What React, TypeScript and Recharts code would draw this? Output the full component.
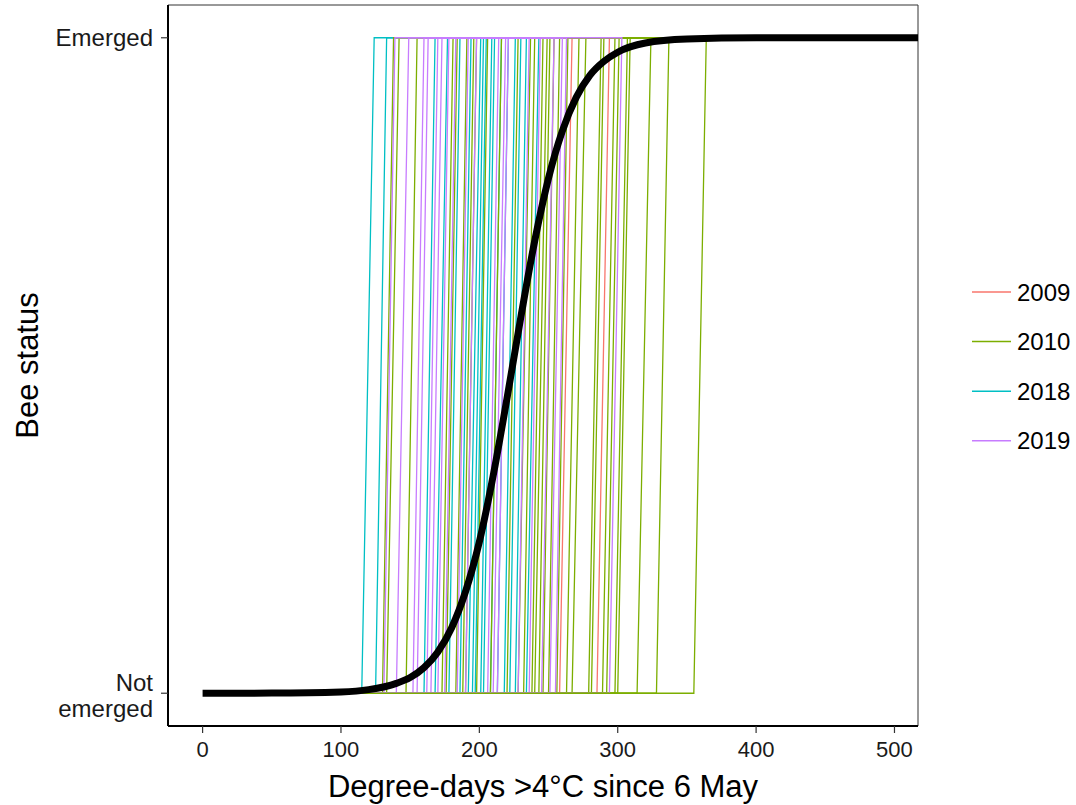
import React from 'react';
import { LineChart, Line, XAxis, YAxis, ReferenceLine, Label } from 'recharts';

// ---------- data ----------
const years = ['2009', '2010', '2018', '2019'];
const yearColors = ['#F8766D', '#7CAE00', '#00BFC4', '#C77CFF'];

// first and last observation (degree-days) per year
const obsFirst = [115, 115, 115, 115];
const obsLast = [300, 364, 206, 206];

// per bee: last degree-days seen "not emerged" and first degree-days seen "emerged"
const bees2009Before = [258, 285];
const bees2009After = [267, 294];

const bees2010Before = [130, 133, 147, 173, 176, 183, 188, 190, 198, 208, 220, 228, 232, 238, 240, 243, 246, 250, 256, 263, 267, 279, 281, 289, 292, 298, 300, 314, 328, 355];
const bees2010After = [138, 142, 155, 181, 184, 191, 196, 198, 206, 216, 228, 237, 240, 246, 249, 251, 254, 258, 264, 272, 277, 288, 290, 298, 301, 307, 309, 324, 337, 364];

const bees2018Before = [115, 125, 160, 168, 178, 186, 192, 195, 197, 201, 203, 208, 213, 218, 222, 226, 234];
const bees2018After = [124, 133, 168, 177, 186, 194, 201, 203, 205, 209, 211, 216, 221, 226, 230, 234, 243];

const bees2019Before = [131, 140, 152, 155, 162, 165, 170, 175, 184, 190, 206, 210, 213, 228, 236, 245, 251, 255, 294];
const bees2019After = [139, 149, 160, 163, 170, 173, 178, 183, 192, 198, 214, 219, 221, 236, 244, 254, 260, 263, 303];

// fitted emergence probability
const curveX = [0, 50, 100, 120, 140, 150, 160, 170, 180, 190, 200, 210, 220, 230, 240, 250, 260, 270, 280, 290, 300, 320, 350, 400, 450, 520];
const curveY = [0, 0.0002, 0.002, 0.0055, 0.015, 0.024, 0.039, 0.063, 0.1, 0.155, 0.231, 0.332, 0.45, 0.574, 0.69, 0.786, 0.858, 0.909, 0.943, 0.964, 0.978, 0.992, 0.998, 1, 1, 1];

const xTicks = [0, 100, 200, 300, 400, 500];
const yTicks = [0, 1];
const yTickLabels: Record<number, string[]> = { 0: ['Not', 'emerged'], 1: ['Emerged'] };

// ---------- build ----------
const FONT = '"Liberation Sans", Arial, Helvetica, sans-serif';

type Bee = { key: string; color: string; data: { x: number; y: number }[] };

function makeBees(yi: number, before: number[], after: number[]): Bee[] {
  return before.map((b, i) => ({
    key: `${years[yi]}-${i}`,
    color: yearColors[yi],
    data: [
      { x: obsFirst[yi], y: 0 },
      { x: b, y: 0 },
      { x: after[i], y: 1 },
      { x: obsLast[yi], y: 1 },
    ],
  }));
}

const b2009 = makeBees(0, bees2009Before, bees2009After);
const b2010 = makeBees(1, bees2010Before, bees2010After);
const b2018 = makeBees(2, bees2018Before, bees2018After);
const b2019 = makeBees(3, bees2019Before, bees2019After);

const lastIdx2010 = b2010.length - 1;
const drawOrder: Bee[] = [
  ...b2018,
  ...b2009,
  ...b2010.slice(0, lastIdx2010),
  ...b2019,
  ...b2010.slice(lastIdx2010),
];

const curveData = curveX.map((x, i) => ({ x, y: curveY[i] }));

const YTick = (props: any) => {
  const { x, y, payload } = props;
  const lines = yTickLabels[payload.value] || [];
  if (lines.length === 1) {
    return (
      <text x={x} y={y + 8.6} textAnchor="end" fontSize={24} fill="#1a1a1a" fontFamily={FONT}>
        {lines[0]}
      </text>
    );
  }
  return (
    <text textAnchor="end" fontSize={24} fill="#1a1a1a" fontFamily={FONT}>
      <tspan x={x} y={y - 2.5}>{lines[0]}</tspan>
      <tspan x={x} y={y + 23.5}>{lines[1]}</tspan>
    </text>
  );
};

const legendTop = 292;
const legendGap = 49.6;

export default function App() {
  return (
    <div style={{ position: 'absolute', left: 0, top: 0, width: 1076, height: 805, background: '#fff' }}>
      <LineChart width={1076} height={805} margin={{ top: 5, right: 158, bottom: 0, left: 0 }}>
        <XAxis
          dataKey="x"
          type="number"
          domain={[-25, 517]}
          allowDataOverflow
          ticks={xTicks}
          height={79}
          tickSize={7}
          tickMargin={8}
          axisLine={{ stroke: '#000', strokeWidth: 2 }}
          tickLine={{ stroke: '#333', strokeWidth: 1.2 }}
          tick={{ fontSize: 22, fill: '#1a1a1a', fontFamily: FONT }}
        >
          <Label
            value="Degree-days >4°C since 6 May"
            position="insideBottom"
            offset={8}
            style={{ fontSize: 31, fill: '#000', fontFamily: FONT }}
          />
        </XAxis>
        <YAxis
          dataKey="y"
          type="number"
          domain={[-0.05, 1.05]}
          allowDataOverflow
          ticks={yTicks}
          width={168}
          tickSize={7}
          tickMargin={8}
          axisLine={{ stroke: '#000', strokeWidth: 2 }}
          tickLine={{ stroke: '#333', strokeWidth: 1.2 }}
          tick={<YTick />}
        >
          <Label
            value="Bee status"
            angle={-90}
            position="insideLeft"
            offset={27}
            style={{ fontSize: 31, fill: '#000', fontFamily: FONT, textAnchor: 'middle' }}
          />
        </YAxis>
        <ReferenceLine y={1.05} stroke="#333" strokeWidth={1} />
        <ReferenceLine x={517} stroke="#333" strokeWidth={1} />
        {drawOrder.map((b) => (
          <Line
            key={b.key}
            data={b.data}
            dataKey="y"
            type="linear"
            stroke={b.color}
            strokeWidth={1.3}
            dot={false}
            activeDot={false}
            isAnimationActive={false}
            legendType="none"
          />
        ))}
        <Line
          data={curveData}
          dataKey="y"
          type="monotone"
          stroke="#000"
          strokeWidth={7}
          dot={false}
          activeDot={false}
          isAnimationActive={false}
        />
      </LineChart>
      <svg
        width={1076}
        height={805}
        style={{ position: 'absolute', left: 0, top: 0, pointerEvents: 'none' }}
      >
        {years.map((yr, i) => {
          const cy = legendTop + i * legendGap;
          return (
            <g key={yr}>
              <line x1={972} x2={1011} y1={cy} y2={cy} stroke={yearColors[i]} strokeWidth={1.5} />
              <text x={1017} y={cy + 8.6} fontSize={24} fill="#000" fontFamily={FONT}>
                {yr}
              </text>
            </g>
          );
        })}
      </svg>
    </div>
  );
}
